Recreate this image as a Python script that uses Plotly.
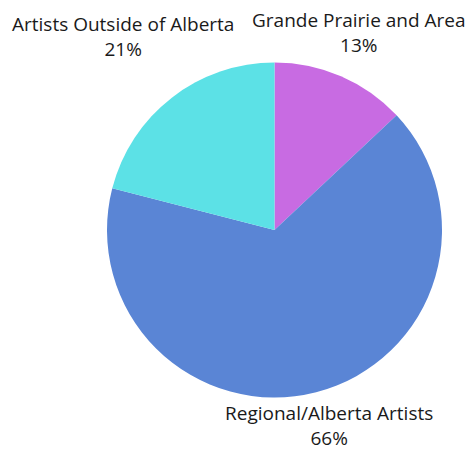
import plotly.graph_objects as go

labels = ["Grande Prairie and Area", "Regional/Alberta Artists", "Artists Outside of Alberta"]
values = [13, 66, 21]
colors = ["#C86BE2", "#5A85D5", "#5CE1E6"]

W, H = 470, 452

fig = go.Figure(go.Pie(
    labels=labels, values=values, sort=False, direction="clockwise", rotation=0,
    marker=dict(colors=colors, line=dict(width=0)),
    textinfo="none", hoverinfo="label+percent", showlegend=False,
    domain=dict(x=[107 / W, 442 / W], y=[1 - 398 / H, 1 - 62 / H]),
))

# label anchors (pixel x, pixel y, vertical anchor) for each slice
label_pos = {
    "Grande Prairie and Area": (359, 33, "middle"),
    "Regional/Alberta Artists": (329, 452, "bottom"),
    "Artists Outside of Alberta": (123, 36, "middle"),
}
total = sum(values)
for lab, val in zip(labels, values):
    px, py, ya = label_pos[lab]
    fig.add_annotation(
        x=px / W, y=1 - py / H, xref="paper", yref="paper",
        text=f"{lab}<br>{round(100 * val / total)}%", showarrow=False,
        font=dict(family="Open Sans", size=19, color="#1a1a1a"),
        align="center", xanchor="center", yanchor=ya, borderpad=0,
    )

fig.update_layout(
    width=W, height=H, margin=dict(l=0, r=0, t=0, b=0),
    paper_bgcolor="white", plot_bgcolor="white",
)
fig.write_html("out.html")
